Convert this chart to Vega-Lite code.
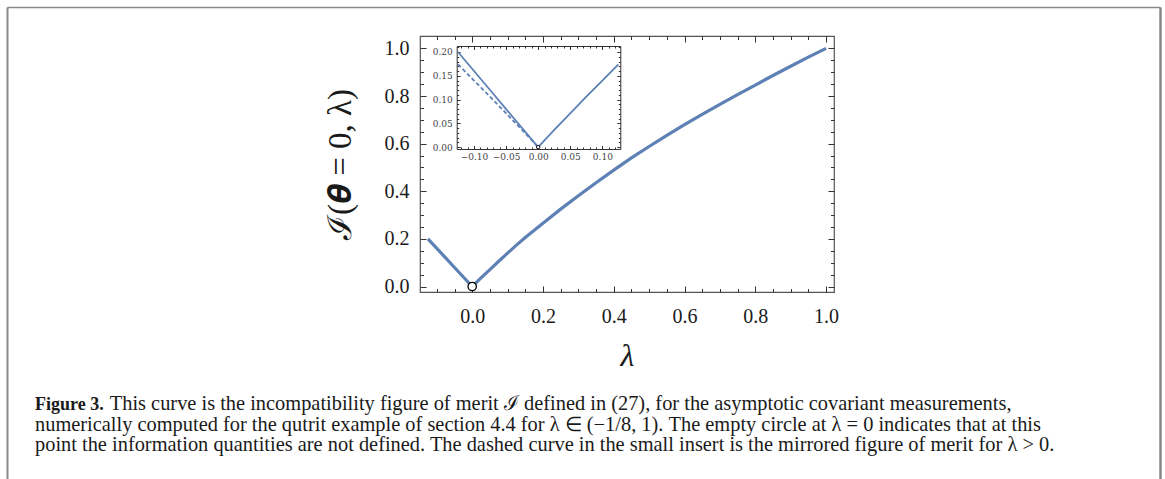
{
  "$schema": "https://vega.github.io/schema/vega-lite/v6.json",
  "width": 414,
  "height": 256,
  "autosize": {"type": "none"},
  "padding": {"left": 420, "top": 36, "right": 331, "bottom": 187},
  "background": "white",
  "datasets": {
    "main": [
      {"lam": -0.125, "val": 0.2}, {"lam": -0.1, "val": 0.16}, {"lam": -0.075, "val": 0.12},
      {"lam": -0.05, "val": 0.08}, {"lam": -0.025, "val": 0.04}, {"lam": 0, "val": 0},
      {"lam": 0.025, "val": 0.036}, {"lam": 0.05, "val": 0.071}, {"lam": 0.075, "val": 0.106},
      {"lam": 0.1, "val": 0.14}, {"lam": 0.125, "val": 0.174}, {"lam": 0.15, "val": 0.206},
      {"lam": 0.2, "val": 0.266}, {"lam": 0.25, "val": 0.325}, {"lam": 0.3, "val": 0.381},
      {"lam": 0.35, "val": 0.436}, {"lam": 0.4, "val": 0.489}, {"lam": 0.45, "val": 0.54},
      {"lam": 0.5, "val": 0.588}, {"lam": 0.55, "val": 0.635}, {"lam": 0.6, "val": 0.68},
      {"lam": 0.65, "val": 0.723}, {"lam": 0.7, "val": 0.765}, {"lam": 0.75, "val": 0.806},
      {"lam": 0.8, "val": 0.846}, {"lam": 0.85, "val": 0.886}, {"lam": 0.9, "val": 0.925},
      {"lam": 0.95, "val": 0.963}, {"lam": 1.0, "val": 1.0}
    ],
    "mirror": [
      {"lam": -0.125, "val": 0.174}, {"lam": -0.1, "val": 0.14}, {"lam": -0.075, "val": 0.106},
      {"lam": -0.05, "val": 0.071}, {"lam": -0.025, "val": 0.036}, {"lam": 0, "val": 0}
    ],
    "origin": [{"lam": 0, "val": 0}]
  },
  "title": {
    "text": "Figure 3.",
    "subtitle": [
      "\u200B\u2003\u2003\u2003\u2002\u2006This curve is the incompatibility figure of merit ℐ defined in (27), for the asymptotic covariant measurements,",
      "numerically computed for the qutrit example of section 4.4 for λ ∈ (−1/8, 1). The empty circle at λ = 0 indicates that at this",
      "point the information quantities are not defined. The dashed curve in the small insert is the mirrored figure of merit for λ > 0."
    ],
    "orient": "bottom",
    "anchor": "start",
    "frame": "group",
    "dx": -385,
    "offset": -112,
    "font": "Liberation Serif",
    "fontSize": 18,
    "fontWeight": "bold",
    "color": "#1a1a1a",
    "subtitleFont": "Liberation Serif",
    "subtitleFontSize": 20.4,
    "subtitleFontWeight": "normal",
    "subtitleColor": "#1a1a1a",
    "subtitleLineHeight": 20.5,
    "subtitlePadding": -19.9
  },
  "layer": [
    {
      "layer": [
        {"data": {"name": "main"}, "mark": {"type": "line", "color": "#5E81B5", "strokeWidth": 3.2}},
        {"data": {"name": "origin"}, "mark": {"type": "point", "filled": true, "fill": "white", "stroke": "black", "strokeWidth": 1.3, "size": 70, "opacity": 1}}
      ],
      "encoding": {
        "x": {"field": "lam", "type": "quantitative", "scale": {"domain": [-0.1475, 1.0225], "nice": false, "zero": false},
          "axis": {"orient": "bottom", "values": [0, 0.2, 0.4, 0.6, 0.8, 1], "format": ".1f", "domain": false, "grid": false,
            "tickSize": -6, "tickColor": "#333", "tickWidth": 1, "labelPadding": 20, "labelFont": "Liberation Serif", "labelFontSize": 20,
            "labelColor": "#1a1a1a", "labelFlush": false, "labelOverlap": false,
            "title": "λ", "titleFont": "Liberation Serif", "titleFontSize": 32, "titleFontWeight": "normal", "titleFontStyle": "italic",
            "titleColor": "#1a1a1a", "titlePadding": 14}},
        "y": {"field": "val", "type": "quantitative", "scale": {"domain": [-0.023, 1.052], "nice": false, "zero": false},
          "axis": {"orient": "left", "values": [0, 0.2, 0.4, 0.6, 0.8, 1], "format": ".1f", "domain": false, "grid": false,
            "tickSize": -6, "tickColor": "#333", "tickWidth": 1, "labelPadding": 17, "labelFont": "Liberation Serif", "labelFontSize": 20,
            "labelColor": "#1a1a1a", "labelFlush": false, "labelOverlap": false,
            "title": "ℐ(𝜽 = 0, λ)", "titleFont": "Liberation Serif", "titleFontSize": 33, "titleFontWeight": "normal",
            "titleColor": "#1a1a1a", "titlePadding": 27}}
      }
    },
    {
      "data": {"name": "origin"},
      "mark": {"type": "point", "opacity": 0},
      "encoding": {
        "x": {"field": "lam", "type": "quantitative", "scale": {"domain": [-0.1475, 1.0225], "nice": false, "zero": false},
          "axis": {"orient": "bottom", "values": [-0.1, -0.05, 0.05, 0.1, 0.15, 0.25, 0.3, 0.35, 0.45, 0.5, 0.55, 0.65, 0.7, 0.75, 0.85, 0.9, 0.95],
            "labels": false, "domain": false, "grid": false, "tickSize": -3.5, "tickColor": "#333", "tickWidth": 1, "title": null}},
        "y": {"field": "val", "type": "quantitative", "scale": {"domain": [-0.023, 1.052], "nice": false, "zero": false},
          "axis": {"orient": "left", "values": [0.05, 0.1, 0.15, 0.25, 0.3, 0.35, 0.45, 0.5, 0.55, 0.65, 0.7, 0.75, 0.85, 0.9, 0.95],
            "labels": false, "domain": false, "grid": false, "tickSize": -3.5, "tickColor": "#333", "tickWidth": 1, "title": null}}
      }
    },
    {
      "data": {"name": "origin"},
      "mark": {"type": "point", "opacity": 0},
      "encoding": {
        "x": {"field": "lam", "type": "quantitative", "scale": {"domain": [-0.1475, 1.0225], "nice": false, "zero": false},
          "axis": {"orient": "top", "values": [0, 0.2, 0.4, 0.6, 0.8, 1],
            "labels": false, "domain": false, "grid": false, "tickSize": -6, "tickColor": "#333", "tickWidth": 1, "title": null}},
        "y": {"field": "val", "type": "quantitative", "scale": {"domain": [-0.023, 1.052], "nice": false, "zero": false},
          "axis": {"orient": "right", "values": [0, 0.2, 0.4, 0.6, 0.8, 1],
            "labels": false, "domain": false, "grid": false, "tickSize": -6, "tickColor": "#333", "tickWidth": 1, "title": null}}
      }
    },
    {
      "data": {"name": "origin"},
      "mark": {"type": "point", "opacity": 0},
      "encoding": {
        "x": {"field": "lam", "type": "quantitative", "scale": {"domain": [-0.1475, 1.0225], "nice": false, "zero": false},
          "axis": {"orient": "top", "values": [-0.1, -0.05, 0.05, 0.1, 0.15, 0.25, 0.3, 0.35, 0.45, 0.5, 0.55, 0.65, 0.7, 0.75, 0.85, 0.9, 0.95],
            "labels": false, "domain": false, "grid": false, "tickSize": -3.5, "tickColor": "#333", "tickWidth": 1, "title": null}},
        "y": {"field": "val", "type": "quantitative", "scale": {"domain": [-0.023, 1.052], "nice": false, "zero": false},
          "axis": {"orient": "right", "values": [0.05, 0.1, 0.15, 0.25, 0.3, 0.35, 0.45, 0.5, 0.55, 0.65, 0.7, 0.75, 0.85, 0.9, 0.95],
            "labels": false, "domain": false, "grid": false, "tickSize": -3.5, "tickColor": "#333", "tickWidth": 1, "title": null}}
      }
    },
    {
      "layer": [
        {"data": {"name": "main"}, "transform": [{"filter": "datum.lam <= 0.1251"}],
          "mark": {"type": "line", "color": "#5E81B5", "strokeWidth": 1.8}},
        {"data": {"name": "mirror"}, "mark": {"type": "line", "color": "#5E81B5", "strokeWidth": 1.8, "strokeDash": [4, 2.5]}},
        {"data": {"name": "origin"}, "mark": {"type": "point", "filled": true, "fill": "white", "stroke": "black", "strokeWidth": 1, "size": 12, "opacity": 1}}
      ],
      "encoding": {
        "x": {"field": "lam", "type": "quantitative", "scale": {"domain": [-0.127, 0.128], "range": [36.7, 200.3], "nice": false, "zero": false},
          "axis": {"orient": "bottom", "offset": -143, "values": [-0.1, -0.05, 0, 0.05, 0.1], "format": ".2f",
            "domain": true, "domainColor": "#333", "domainWidth": 1, "grid": false,
            "tickSize": -3.5, "tickColor": "#333", "tickWidth": 1, "labelPadding": 7, "labelFont": "DejaVu Serif", "labelFontSize": 9,
            "labelColor": "#444", "labelFlush": false, "labelOverlap": false, "title": null}},
        "y": {"field": "val", "type": "quantitative", "scale": {"domain": [-0.004, 0.2126], "range": [113, 10], "nice": false, "zero": false},
          "axis": {"orient": "left", "offset": -36.7, "values": [0, 0.05, 0.1, 0.15, 0.2], "format": ".2f",
            "domain": true, "domainColor": "#333", "domainWidth": 1, "grid": false,
            "tickSize": -3.5, "tickColor": "#333", "tickWidth": 1, "labelPadding": 8, "labelFont": "DejaVu Serif", "labelFontSize": 9,
            "labelColor": "#444", "labelFlush": false, "labelOverlap": false, "title": null}}
      }
    },
    {
      "data": {"name": "origin"},
      "mark": {"type": "point", "opacity": 0},
      "encoding": {
        "x": {"field": "lam", "type": "quantitative", "scale": {"domain": [-0.127, 0.128], "range": [36.7, 200.3], "nice": false, "zero": false},
          "axis": {"orient": "bottom", "offset": -143, "values": [-0.12, -0.11, -0.09, -0.08, -0.07, -0.06, -0.04, -0.03, -0.02, -0.01, 0.01, 0.02, 0.03, 0.04, 0.06, 0.07, 0.08, 0.09, 0.11, 0.12],
            "labels": false, "domain": false, "grid": false, "tickSize": -2, "tickColor": "#333", "tickWidth": 1, "title": null}},
        "y": {"field": "val", "type": "quantitative", "scale": {"domain": [-0.004, 0.2126], "range": [113, 10], "nice": false, "zero": false},
          "axis": {"orient": "left", "offset": -36.7, "values": [0.01, 0.02, 0.03, 0.04, 0.06, 0.07, 0.08, 0.09, 0.11, 0.12, 0.13, 0.14, 0.16, 0.17, 0.18, 0.19, 0.21],
            "labels": false, "domain": false, "grid": false, "tickSize": -2, "tickColor": "#333", "tickWidth": 1, "title": null}}
      }
    },
    {
      "data": {"name": "origin"},
      "mark": {"type": "point", "opacity": 0},
      "encoding": {
        "x": {"field": "lam", "type": "quantitative", "scale": {"domain": [-0.127, 0.128], "range": [36.7, 200.3], "nice": false, "zero": false},
          "axis": {"orient": "top", "offset": -10, "values": [-0.1, -0.05, 0, 0.05, 0.1],
            "labels": false, "domain": true, "domainColor": "#333", "domainWidth": 1, "grid": false, "tickSize": -3.5, "tickColor": "#333", "tickWidth": 1, "title": null}},
        "y": {"field": "val", "type": "quantitative", "scale": {"domain": [-0.004, 0.2126], "range": [113, 10], "nice": false, "zero": false},
          "axis": {"orient": "right", "offset": -213.7, "values": [0, 0.05, 0.1, 0.15, 0.2],
            "labels": false, "domain": true, "domainColor": "#333", "domainWidth": 1, "grid": false, "tickSize": -3.5, "tickColor": "#333", "tickWidth": 1, "title": null}}
      }
    },
    {
      "data": {"name": "origin"},
      "mark": {"type": "point", "opacity": 0},
      "encoding": {
        "x": {"field": "lam", "type": "quantitative", "scale": {"domain": [-0.127, 0.128], "range": [36.7, 200.3], "nice": false, "zero": false},
          "axis": {"orient": "top", "offset": -10, "values": [-0.12, -0.11, -0.09, -0.08, -0.07, -0.06, -0.04, -0.03, -0.02, -0.01, 0.01, 0.02, 0.03, 0.04, 0.06, 0.07, 0.08, 0.09, 0.11, 0.12],
            "labels": false, "domain": false, "grid": false, "tickSize": -2, "tickColor": "#333", "tickWidth": 1, "title": null}},
        "y": {"field": "val", "type": "quantitative", "scale": {"domain": [-0.004, 0.2126], "range": [113, 10], "nice": false, "zero": false},
          "axis": {"orient": "right", "offset": -213.7, "values": [0.01, 0.02, 0.03, 0.04, 0.06, 0.07, 0.08, 0.09, 0.11, 0.12, 0.13, 0.14, 0.16, 0.17, 0.18, 0.19, 0.21],
            "labels": false, "domain": false, "grid": false, "tickSize": -2, "tickColor": "#333", "tickWidth": 1, "title": null}}
      }
    },
    {
      "data": {"name": "origin"},
      "mark": {"type": "point", "opacity": 0},
      "encoding": {
        "x": {"field": "lam", "type": "quantitative", "scale": {"domain": [0, 1], "range": [-413, 740], "nice": false, "zero": false},
          "axis": {"orient": "top", "offset": 29, "labels": false, "ticks": false, "domain": true, "domainColor": "#888", "domainWidth": 1.5, "grid": false, "title": null}},
        "y": {"field": "val", "type": "quantitative", "scale": {"domain": [0, 1], "range": [443, -29], "nice": false, "zero": false},
          "axis": {"orient": "left", "offset": 413, "labels": false, "ticks": false, "domain": true, "domainColor": "#888", "domainWidth": 2, "grid": false, "title": null}}
      }
    },
    {
      "data": {"name": "origin"},
      "mark": {"type": "point", "opacity": 0},
      "encoding": {
        "x": {"field": "lam", "type": "quantitative", "scale": {"domain": [0, 1], "range": [-413, 740], "nice": false, "zero": false}, "axis": null},
        "y": {"field": "val", "type": "quantitative", "scale": {"domain": [0, 1], "range": [443, -29], "nice": false, "zero": false},
          "axis": {"orient": "right", "offset": 326, "labels": false, "ticks": false, "domain": true, "domainColor": "#888", "domainWidth": 2.5, "grid": false, "title": null}}
      }
    }
  ],
  "resolve": {"scale": {"x": "independent", "y": "independent"}, "axis": {"x": "independent", "y": "independent"}},
  "config": {"view": {"stroke": "#555", "strokeWidth": 1.2}, "axis": {"grid": false}}
}
